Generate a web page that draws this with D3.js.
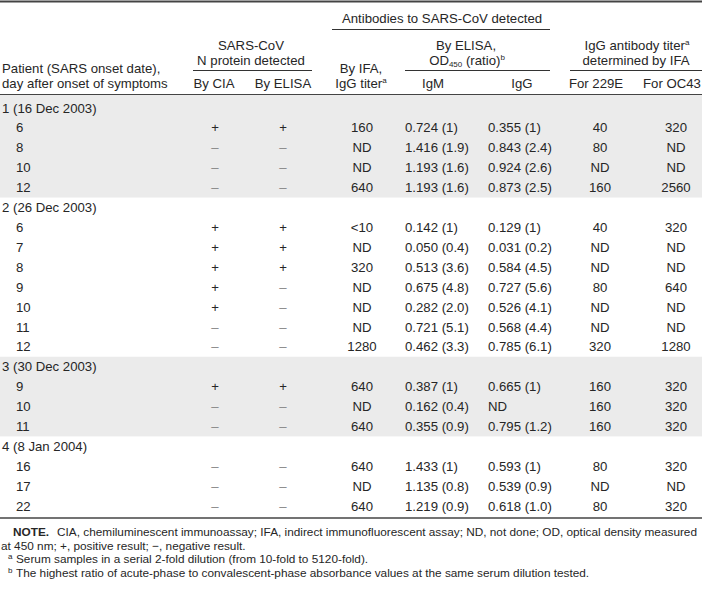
<!DOCTYPE html>
<html><head><meta charset="utf-8">
<script src="https://cdn.jsdelivr.net/npm/d3@7"></script>
<style>body{margin:0;background:#fff}svg{display:block;font-family:"Liberation Sans",Arial,Helvetica,sans-serif}</style>
</head><body><svg id="c" width="702" height="589"></svg>
<script>
const patientLabels = ["1 (16 Dec 2003)", "2 (26 Dec 2003)", "3 (30 Dec 2003)", "4 (8 Jan 2004)"];
const patientOf = [0,0,0,0, 1,1,1,1,1,1,1, 2,2,2, 3,3,3];
const days = ["6","8","10","12", "6","7","8","9","10","11","12", "9","10","11", "16","17","22"];
const byCIA = ["+","–","–","–", "+","+","+","+","+","–","–", "+","–","–", "–","–","–"];
const byELISA = ["+","–","–","–", "+","+","+","–","–","–","–", "+","–","–", "–","–","–"];
const ifaTiter = ["160","ND","ND","640", "<10","ND","320","ND","ND","ND","1280", "640","ND","640", "640","ND","640"];
const igmOD = ["0.724 (1)","1.416 (1.9)","1.193 (1.6)","1.193 (1.6)", "0.142 (1)","0.050 (0.4)","0.513 (3.6)","0.675 (4.8)","0.282 (2.0)","0.721 (5.1)","0.462 (3.3)", "0.387 (1)","0.162 (0.4)","0.355 (0.9)", "1.433 (1)","1.135 (0.8)","1.219 (0.9)"];
const iggOD = ["0.355 (1)","0.843 (2.4)","0.924 (2.6)","0.873 (2.5)", "0.129 (1)","0.031 (0.2)","0.584 (4.5)","0.727 (5.6)","0.526 (4.1)","0.568 (4.4)","0.785 (6.1)", "0.665 (1)","ND","0.795 (1.2)", "0.593 (1)","0.539 (0.9)","0.618 (1.0)"];
const titer229E = ["40","80","ND","160", "40","ND","ND","80","ND","ND","320", "160","160","160", "80","ND","80"];
const titerOC43 = ["320","ND","ND","2560", "320","ND","ND","640","ND","ND","1280", "320","320","320", "320","ND","320"];
const columnKeys = ["day","cia","elisa","ifa","igm","igg","e229","oc43"];
const notes = ["CIA, chemiluminescent immunoassay; IFA, indirect immunofluorescent assay; ND, not done; OD, optical density measured",
  "at 450 nm; +, positive result; −, negative result."];
const footA = "Serum samples in a serial 2-fold dilution (from 10-fold to 5120-fold).";
const footB = "The highest ratio of acute-phase to convalescent-phase absorbance values at the same serum dilution tested.";

// build row list: group header followed by its samples
const rows = [];
patientLabels.forEach((p, g) => {
  rows.push({type:"group", g, label:p});
  days.forEach((d, i) => { if (patientOf[i] === g) rows.push({type:"row", g, i}); });
});

const svg = d3.select("#c");
const W = 702;
const y = d3.scaleBand().domain(d3.range(rows.length)).range([98, 516]);
const colX = d3.scaleOrdinal().domain(columnKeys).range([16, 215, 283, 362, 405, 488, 600, 676]);
const colAnchor = d3.scaleOrdinal().domain(columnKeys).range(["start","middle","middle","middle","start","start","middle","middle"]);
const ink = "#262626";
const fs = 13.2;

// shading for groups 1 and 3
[0, 2].forEach(g => {
  const idx = rows.map((r, k) => r.g === g ? k : -1).filter(k => k >= 0);
  const top = g === 0 ? 95 : y(idx[0]);
  svg.append("rect").attr("x", 0).attr("width", W)
    .attr("y", top).attr("height", y(idx[idx.length-1]) + y.bandwidth() - top)
    .attr("fill", "#ebebeb");
});

// rules
const rule = (x1, x2, yy, w, c) => svg.append("line").attr("x1", x1).attr("x2", x2).attr("y1", yy).attr("y2", yy)
  .attr("stroke", c || "#333").attr("stroke-width", w || 1);
rule(0, W, 1.5, 2.2, "#444");
rule(332, 550, 29.5, 1);
rule(193, 312, 70.5, 1);
rule(405, 550, 70.5, 1);
rule(570, W, 70.5, 1);
rule(0, W, 94.5, 1.2, "#444");
rule(0, W, 518, 1.4, "#444");

const txt = (x, yy, s, anchor) => {
  const t = svg.append("text").attr("x", x).attr("y", yy).attr("fill", ink).attr("font-size", fs)
    .attr("text-anchor", anchor || "start");
  if (s !== null) t.text(s);
  return t;
};

// headers
txt(442, 23, "Antibodies to SARS-CoV detected", "middle");
txt(251, 50, "SARS-CoV", "middle");
txt(251, 65, "N protein detected", "middle");
txt(2, 73, "Patient (SARS onset date),");
txt(2, 88, "day after onset of symptoms");
txt(214, 88, "By CIA", "middle");
txt(283, 88, "By ELISA", "middle");
txt(361, 73, "By IFA,", "middle");
{
  const t = txt(361, 88, null, "middle");
  t.append("tspan").text("IgG titer");
  t.append("tspan").attr("font-size", 8).attr("dy", -5).text("a");
}
txt(466, 50, "By ELISA,", "middle");
{
  const t = txt(467, 65, null, "middle");
  t.append("tspan").text("OD");
  t.append("tspan").attr("font-size", 8).attr("dy", 2).text("450");
  t.append("tspan").attr("dy", -2).text(" (ratio)");
  t.append("tspan").attr("font-size", 8).attr("dy", -5).text("b");
}
txt(433, 88, "IgM", "middle");
txt(522, 88, "IgG", "middle");
{
  const t = txt(637, 50, null, "middle");
  t.append("tspan").text("IgG antibody titer");
  t.append("tspan").attr("font-size", 8).attr("dy", -5).text("a");
}
txt(636, 65, "determined by IFA", "middle");
txt(596, 88, "For 229E", "middle");
txt(672, 88, "For OC43", "middle");

// body
const base = k => y(k) + y.bandwidth() / 2 + 4.6;
rows.forEach((r, k) => {
  if (r.type === "group") { txt(2, base(k), r.label); return; }
  const i = r.i;
  const vals = {day: days[i], cia: byCIA[i], elisa: byELISA[i], ifa: ifaTiter[i], igm: igmOD[i], igg: iggOD[i], e229: titer229E[i], oc43: titerOC43[i]};
  columnKeys.forEach(c => {
    const t = txt(colX(c), base(k), vals[c], colAnchor(c));
    if (vals[c] === "–") t.attr("fill", "#888");
  });
});

// notes
const nf = 11.8;
{
  const t = svg.append("text").attr("x", 13).attr("y", 536).attr("font-size", nf).attr("fill", ink);
  t.append("tspan").attr("font-weight", "bold").text("NOTE.");
  t.append("tspan").attr("dx", 8).text(notes[0]);
}
svg.append("text").attr("x", 1).attr("y", 550).attr("font-size", nf).attr("fill", ink).text(notes[1]);
svg.append("text").attr("x", 8).attr("y", 559).attr("font-size", 8).attr("fill", ink).text("a");
svg.append("text").attr("x", 16).attr("y", 563).attr("font-size", nf).attr("fill", ink).text(footA);
svg.append("text").attr("x", 8).attr("y", 573).attr("font-size", 8).attr("fill", ink).text("b");
svg.append("text").attr("x", 16).attr("y", 577).attr("font-size", nf).attr("fill", ink).text(footB);
</script></body></html>
